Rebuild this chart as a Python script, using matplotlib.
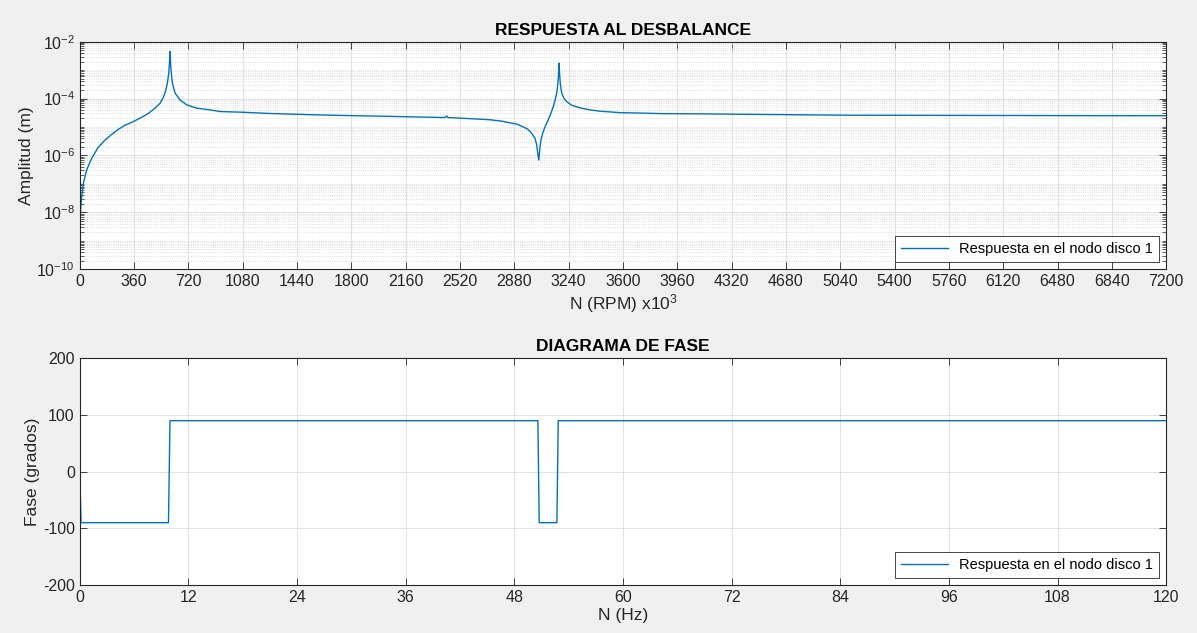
import numpy as np
import matplotlib
matplotlib.use("Agg")
import matplotlib.pyplot as plt
from matplotlib.ticker import LogLocator, FixedLocator, NullFormatter

# ---- unbalance response of disc node 1 ----
rpm = [2, 6, 13, 24, 46, 79, 123, 168, 212, 256, 300, 355, 411, 455, 499,
       532, 554, 570, 581, 590, 596, 598, 605, 614, 632, 665, 709, 775, 863,
       930, 1084, 1250, 1438, 1600, 1813, 2000, 2167, 2421, 2432, 2440, 2520,
       2600, 2719, 2800, 2851, 2900, 2940, 2970, 2995, 3017, 3028, 3036,
       3042, 3046, 3050, 3058, 3068, 3085, 3105, 3122, 3138, 3150, 3161,
       3168, 3172, 3176, 3180, 3185, 3194, 3210, 3227, 3260, 3316, 3380,
       3449, 3581, 3700, 3866, 4100, 4420, 5083, 5966, 6762, 7200]
amplitud = [3.6e-9, 1.2e-8, 3.5e-8, 1.05e-7, 3.1e-7, 7.9e-7, 1.95e-6, 3.5e-6,
            5.5e-6, 8.3e-6, 1.15e-5, 1.55e-5, 2.2e-5, 3.0e-5, 4.6e-5, 6.8e-5,
            1.1e-4, 1.9e-4, 3.5e-4, 7.8e-4, 2.3e-3, 4.5e-3, 1.0e-3, 3.5e-4,
            1.55e-4, 8.9e-5, 6.0e-5, 4.6e-5, 4.0e-5, 3.5e-5, 3.3e-5, 3.0e-5,
            2.8e-5, 2.65e-5, 2.5e-5, 2.4e-5, 2.3e-5, 2.15e-5, 2.45e-5, 2.15e-5,
            2.05e-5, 1.95e-5, 1.8e-5, 1.6e-5, 1.4e-5, 1.25e-5, 1.0e-5, 8.3e-6,
            6.0e-6, 4.0e-6, 2.4e-6, 1.1e-6, 6.9e-7, 1.1e-6, 2.0e-6, 3.8e-6,
            6.0e-6, 1.07e-5, 1.8e-5, 3.0e-5, 5.2e-5, 8.7e-5, 1.55e-4, 3.2e-4,
            5.9e-4, 1.75e-3, 7.1e-4, 3.2e-4, 1.55e-4, 1.0e-4, 7.8e-5, 5.8e-5,
            4.7e-5, 4.0e-5, 3.6e-5, 3.2e-5, 3.1e-5, 2.95e-5, 2.9e-5, 2.8e-5,
            2.6e-5, 2.55e-5, 2.5e-5, 2.5e-5]

# ---- phase (degrees) vs frequency (Hz) ----
hz = [0, 0.15, 9.8, 9.97, 50.6, 50.75, 52.7, 52.85, 120]
fase = [0, -90, -90, 90, 90, -90, -90, 90, 90]

rpm_ticks = np.arange(0, 7201, 360)
hz_ticks = np.arange(0, 121, 12)
fase_ticks = [-200, -100, 0, 100, 200]

leyenda = "Respuesta en el nodo disco 1"
azul = "#0072BD"
gris = "#262626"

plt.rcParams["font.family"] = ["Liberation Sans", "DejaVu Sans"]
plt.rcParams["font.size"] = 11
plt.rcParams["axes.unicode_minus"] = False
plt.rcParams["mathtext.fontset"] = "custom"
plt.rcParams["mathtext.rm"] = "Liberation Sans"
plt.rcParams["mathtext.it"] = "Liberation Sans"

fig = plt.figure(figsize=(11.97, 6.33), dpi=100, facecolor="#f0f0f0")
ax1 = fig.add_axes([0.0666, 0.5746, 0.9077, 0.3596])
ax2 = fig.add_axes([0.0666, 0.0758, 0.9077, 0.3581])


def estilo(ax):
    ax.set_facecolor("white")
    for s in ax.spines.values():
        s.set_color(gris)
        s.set_linewidth(0.8)
    ax.tick_params(which="both", direction="in", top=True, right=True,
                   colors=gris, labelcolor=gris, labelsize=11.5)
    ax.tick_params(which="major", length=5, width=0.6)
    ax.tick_params(which="minor", length=3, width=0.5)
    ax.grid(True, which="major", color="#dcdcdc", linewidth=0.6)


# amplitude
ax1.semilogy(rpm, amplitud, color=azul, linewidth=1.0, label=leyenda)
ax1.set_xlim(0, 7200)
ax1.set_ylim(1e-10, 1e-2)
ax1.xaxis.set_major_locator(FixedLocator(rpm_ticks))
ax1.yaxis.set_major_locator(FixedLocator([1e-10, 1e-8, 1e-6, 1e-4, 1e-2]))
ax1.yaxis.set_minor_locator(LogLocator(base=10, subs=np.arange(1, 10), numticks=20))
ax1.yaxis.set_minor_formatter(NullFormatter())
estilo(ax1)
ax1.grid(True, which="minor", axis="y", color="#d4d4d4", linestyle=":", linewidth=0.6)
ax1.set_axisbelow(True)
ax1.set_title("RESPUESTA AL DESBALANCE", fontweight="bold", fontsize=12.5, color="black", pad=5)
ax1.set_xlabel("N (RPM) x10$^3$", color=gris, fontsize=12.5, labelpad=2)
ax1.set_ylabel("Amplitud (m)", color=gris, fontsize=12.5, labelpad=2)
lg1 = ax1.legend(loc="lower right", fancybox=False, framealpha=1, edgecolor=gris,
                 borderaxespad=0.5, handlelength=3.2, fontsize=10.5)
lg1.get_frame().set_linewidth(0.6)

# phase
ax2.plot(hz, fase, color=azul, linewidth=1.0, label=leyenda)
ax2.set_xlim(0, 120)
ax2.set_ylim(-200, 200)
ax2.set_xticks(hz_ticks)
ax2.set_yticks(fase_ticks)
estilo(ax2)
ax2.set_axisbelow(True)
ax2.set_title("DIAGRAMA DE FASE", fontweight="bold", fontsize=12.5, color="black", pad=5)
ax2.set_xlabel("N (Hz)", color=gris, fontsize=12.5, labelpad=2)
ax2.set_ylabel("Fase (grados)", color=gris, fontsize=12.5, labelpad=2)
lg2 = ax2.legend(loc="lower right", fancybox=False, framealpha=1, edgecolor=gris,
                 borderaxespad=0.5, handlelength=3.2, fontsize=10.5)
lg2.get_frame().set_linewidth(0.6)

fig.savefig("out.png", dpi=100, facecolor=fig.get_facecolor())
